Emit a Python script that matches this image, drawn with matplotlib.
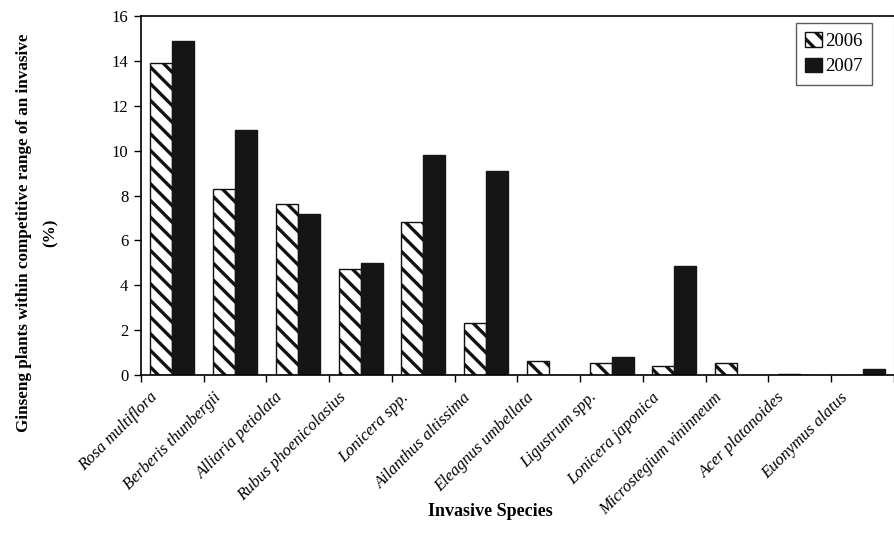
import matplotlib
matplotlib.use("Agg")
import matplotlib.pyplot as plt
import matplotlib.transforms as mtransforms
import numpy as np

species = ["Rosa multiflora", "Berberis thunbergii", "Alliaria petiolata",
           "Rubus phoenicolasius", "Lonicera spp.", "Ailanthus altissima",
           "Eleagnus umbellata", "Ligustrum spp.", "Lonicera japonica",
           "Microstegium vininneum", "Acer platanoides", "Euonymus alatus"]
v2006 = [13.9, 8.27, 7.62, 4.71, 6.8, 2.3, 0.62, 0.55, 0.41, 0.52, 0.05, 0.0]
v2007 = [14.9, 10.93, 7.19, 4.98, 9.82, 9.09, 0.0, 0.82, 4.86, 0.0, 0.0, 0.28]
yticks = [0, 2, 4, 6, 8, 10, 12, 14, 16]

plt.rcParams['font.family'] = ['Liberation Serif', 'DejaVu Serif']
plt.rcParams['hatch.linewidth'] = 2.4

fig = plt.figure(figsize=(8.95, 5.52), dpi=100)
ax = fig.add_axes([141/895, 1-375/552, (894-141)/895, (375-16)/552])

x = np.arange(len(species))
w = 0.35
ax.bar(x - w/2, v2006, w, color='white', edgecolor='#111111', hatch='\\\\', linewidth=1.0, label='2006')
ax.bar(x + w/2, v2007, w, color='#151515', edgecolor='#151515', linewidth=1.0, label='2007')

ax.set_xlim(-0.5, len(species) - 0.5)
ax.set_ylim(0, 16)
ax.set_yticks(yticks)
ax.set_yticklabels([str(t) for t in yticks], fontsize=12)
ax.set_xticks(np.arange(len(species) + 1) - 0.5)
ax.set_xticklabels([])
ax.tick_params(axis='x', which='major', direction='out', length=5, width=1)
ax.tick_params(axis='y', direction='out', length=5, width=1, pad=4)

# category labels, rotated, anchored just left of and below each category centre
offset = mtransforms.ScaledTranslation(-17/100, -20/100, fig.dpi_scale_trans)
trans = ax.get_xaxis_transform() + offset
for i, name in enumerate(species):
    ax.text(x[i], 0, name, transform=trans, rotation=45, ha='right', va='center',
            rotation_mode='anchor', fontsize=12, style='italic', clip_on=False)

for s in ['left', 'bottom', 'top']:
    ax.spines[s].set_linewidth(1.2)
ax.spines['right'].set_color('#999999')

fig.text(24/895, 1-233/552, "Ginseng plants within competitive range of an invasive",
         rotation=90, ha='center', va='center', fontsize=12.3, fontweight='bold')
fig.text(51/895, 1-233/552, "(%)", rotation=90, ha='center', va='center',
         fontsize=12.3, fontweight='bold')
fig.text(490/895, 1-512/552, "Invasive Species", ha='center', va='center',
         fontsize=13, fontweight='bold')

leg = ax.legend(loc='upper right', bbox_to_anchor=(1-22/753, 1-7/359), fontsize=13.5,
                frameon=True, fancybox=False, handlelength=0.9, handleheight=0.8,
                handletextpad=0.15, borderpad=0.5, labelspacing=0.4, borderaxespad=0)
leg.get_frame().set_edgecolor('#333333')
leg.get_frame().set_linewidth(1.0)

fig.savefig("out.png", dpi=100)
